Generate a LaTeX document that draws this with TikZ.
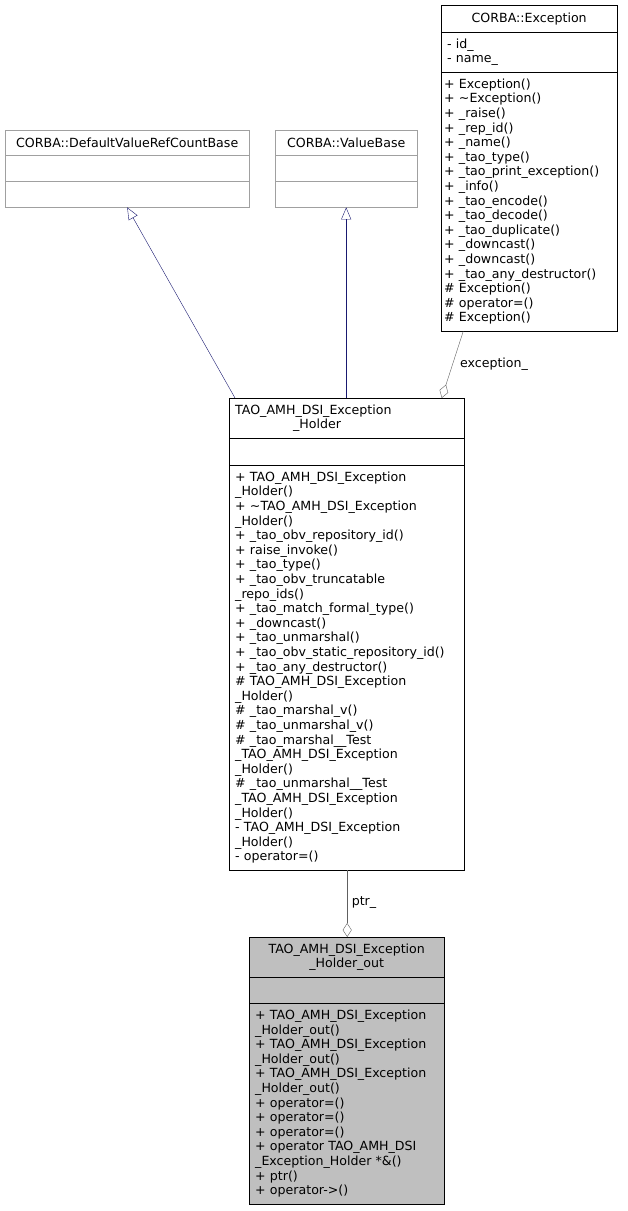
\documentclass[tikz,border=0pt]{standalone}
\usepackage{fontspec}
\setmainfont{DejaVu Sans}
\usetikzlibrary{arrows.meta}
\definecolor{edgenavy}{RGB}{25,25,112}
\definecolor{outfill}{RGB}{191,191,191}
\definecolor{ghost}{RGB}{160,160,160}
\tikzset{
  part/.style={draw, anchor=north west, align=left, inner xsep=6pt, inner ysep=0pt,
    font=\fontsize{12.6}{14.6}\selectfont},
  title/.style={part, align=center},
  inherit/.style={draw=edgenavy, -{Triangle[open,length=12pt,width=10pt]}},
  owns/.style={draw=ghost!60!black, -{Diamond[open,length=14pt,width=9pt]}},
}
\begin{document}
\begin{tikzpicture}[x=1pt,y=-1pt]
\useasboundingbox (0,0) rectangle (627,1211);
% CORBA::Exception
\node (exc) [title, minimum width=176pt, text width=164pt, minimum height=27pt] at (441,5) {CORBA::Exception};
\node (excA) [part, minimum width=176pt, text width=164pt, minimum height=40pt] at (441,32) {- id\_\\- name\_};
\node (excM) [part, minimum width=176pt, text width=170pt, minimum height=259pt, inner xsep=3pt] at (441,72)
  {+ Exception()\\+ \textasciitilde Exception()\\+ \_raise()\\+ \_rep\_id()\\+ \_name()\\+ \_tao\_type()\\+ \_tao\_print\_exception()\\+ \_info()\\+ \_tao\_encode()\\+ \_tao\_decode()\\+ \_tao\_duplicate()\\+ \_downcast()\\+ \_downcast()\\+ \_tao\_any\_destructor()\\\# Exception()\\\# operator=()\\\# Exception()};
% bases
\node (drc) [title, draw=ghost, minimum width=244pt, text width=232pt, minimum height=25pt] at (5,130) {CORBA::DefaultValueRefCountBase};
\node (drcA) [part, draw=ghost, minimum width=244pt, minimum height=26pt] at (5,155) {};
\node (drcM) [part, draw=ghost, minimum width=244pt, minimum height=26pt] at (5,181) {};
\node (vb) [title, draw=ghost, minimum width=142pt, text width=130pt, minimum height=25pt] at (275,130) {CORBA::ValueBase};
\node (vbA) [part, draw=ghost, minimum width=142pt, minimum height=26pt] at (275,155) {};
\node (vbM) [part, draw=ghost, minimum width=142pt, minimum height=26pt] at (275,181) {};
% holder
\node (hold) [part, minimum width=235pt, text width=223pt, minimum height=40pt] at (229,398) {TAO\_AMH\_DSI\_Exception\\\hspace*{4.6em}\_Holder};
\node (holdA) [part, minimum width=235pt, minimum height=27pt] at (229,438) {};
\node (holdM) [part, minimum width=235pt, text width=223pt, minimum height=405pt] at (229,465)
  {+ TAO\_AMH\_DSI\_Exception\\\_Holder()\\+ \textasciitilde TAO\_AMH\_DSI\_Exception\\\_Holder()\\+ \_tao\_obv\_repository\_id()\\+ raise\_invoke()\\+ \_tao\_type()\\+ \_tao\_obv\_truncatable\\\_repo\_ids()\\+ \_tao\_match\_formal\_type()\\+ \_downcast()\\+ \_tao\_unmarshal()\\+ \_tao\_obv\_static\_repository\_id()\\+ \_tao\_any\_destructor()\\\# TAO\_AMH\_DSI\_Exception\\\_Holder()\\\# \_tao\_marshal\_v()\\\# \_tao\_unmarshal\_v()\\\# \_tao\_marshal\_\_Test\\\_TAO\_AMH\_DSI\_Exception\\\_Holder()\\\# \_tao\_unmarshal\_\_Test\\\_TAO\_AMH\_DSI\_Exception\\\_Holder()\\- TAO\_AMH\_DSI\_Exception\\\_Holder()\\- operator=()};
% holder_out
\node (out) [title, fill=outfill, minimum width=195pt, text width=183pt, minimum height=40pt] at (249,937) {TAO\_AMH\_DSI\_Exception\\\_Holder\_out};
\node (outA) [part, fill=outfill, minimum width=195pt, minimum height=26pt] at (249,977) {};
\node (outM) [part, fill=outfill, minimum width=195pt, text width=183pt, minimum height=201pt] at (249,1003)
  {+ TAO\_AMH\_DSI\_Exception\\\_Holder\_out()\\+ TAO\_AMH\_DSI\_Exception\\\_Holder\_out()\\+ TAO\_AMH\_DSI\_Exception\\\_Holder\_out()\\+ operator=()\\+ operator=()\\+ operator=()\\+ operator TAO\_AMH\_DSI\\\_Exception\_Holder *\&()\\+ ptr()\\+ operator->()};
% Arrows
\coordinate (h1) at ([xshift=6pt]hold.north west);
\coordinate (h2) at ([xshift=-0.5pt]hold.north);
\coordinate (e1) at ([xshift=-66pt]excM.south);
\coordinate (e2) at ([xshift=95pt]hold.north);
\coordinate (p1) at ([xshift=0.5pt]holdM.south);
\draw[inherit] (h1) -- (drcM.south);
\draw[inherit] (h2) -- (h2 |- vbM.south);
\draw[owns] (e1) -- (e2);
\node (lexc) [font=\fontsize{12.6}{14}\selectfont] at (494,364) {exception\_};
\draw[owns] (p1) -- (p1 |- out.north);
\node (lptr) [font=\fontsize{12.6}{14}\selectfont] at (364,903) {ptr\_};
\end{tikzpicture}
\end{document}
